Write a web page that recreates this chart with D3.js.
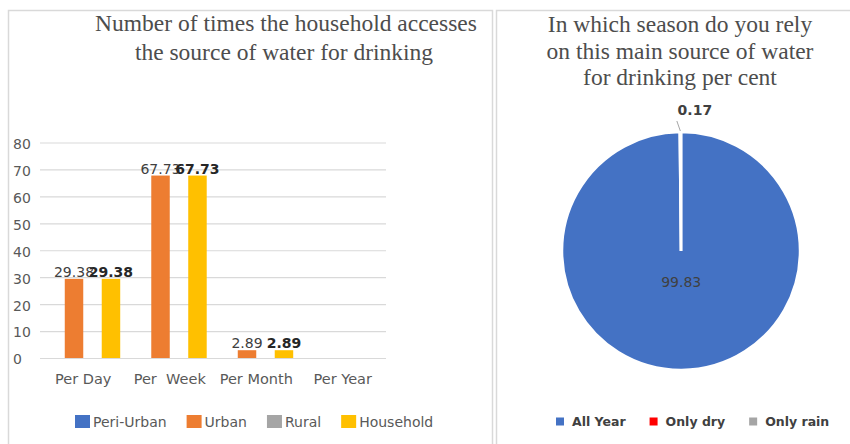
<!DOCTYPE html>
<html>
<head>
<meta charset="utf-8">
<script src="https://cdn.jsdelivr.net/npm/d3@7"></script>
<style>
  html, body { margin: 0; padding: 0; background: #fff; }
  svg { display: block; }
  text { font-family: "DejaVu Sans", sans-serif; }
  .title { font-family: "Liberation Serif", "Times New Roman", serif; fill: #4d4d4d; }
</style>
</head>
<body>
<svg id="chart" width="850" height="444"></svg>
<script>
// Access frequency by area type (per cent)
const frequencies = ["Per Day", "Per  Week", "Per Month", "Per Year"];
const areaSeries = ["Peri-Urban", "Urban", "Rural", "Household"];
const periUrban = [null, null, null, null];
const urban = [29.38, 67.73, 2.89, null];
const rural = [null, null, null, null];
const household = [29.38, 67.73, 2.89, null];
const yTicks = [0, 10, 20, 30, 40, 50, 60, 70, 80];

// Season of reliance on the main drinking-water source (per cent)
const seasons = ["All Year", "Only dry", "Only rain"];
const seasonShares = [99.83, 0.17, 0];

const areaColors = { "Peri-Urban": "#4472C4", "Urban": "#ED7D31", "Rural": "#A5A5A5", "Household": "#FFC000" };
const seasonColors = ["#4472C4", "#FF0000", "#A5A5A5"];

const svg = d3.select("#chart");

// panel frames
svg.append("rect").attr("x", 8.5).attr("y", 10.5).attr("width", 484).attr("height", 450)
  .attr("fill", "none").attr("stroke", "#d9d9d9").attr("stroke-width", 1.5);
svg.append("rect").attr("x", 496.5).attr("y", 10.5).attr("width", 380).attr("height", 450)
  .attr("fill", "none").attr("stroke", "#d9d9d9").attr("stroke-width", 1.5);

// ---------- Bar chart ----------
const leftTitle = svg.append("text").attr("class", "title").attr("text-anchor", "middle")
  .attr("font-size", 23.5);
leftTitle.append("tspan").attr("x", 286).attr("y", 31).text("Number of times the household accesses");
leftTitle.append("tspan").attr("x", 284).attr("y", 60).text("the source of water for drinking");

const y = d3.scaleLinear().domain([0, 80]).range([358, 142.5]);
const x0 = d3.scaleBand().domain(frequencies).range([40, 386]).padding(0);
const x1 = d3.scaleBand().domain(areaSeries).range([0, x0.bandwidth()]).paddingInner(0).paddingOuter(0.34);

const grid = svg.append("g");
grid.selectAll("line").data(yTicks).join("line")
  .attr("x1", 40).attr("x2", 386)
  .attr("y1", d => y(d) + 0.5).attr("y2", d => y(d) + 0.5)
  .attr("stroke", "#d9d9d9").attr("stroke-width", 1.2);

const yAxis = d3.axisLeft(y).tickValues(yTicks).tickSize(0).tickPadding(0);
const yG = svg.append("g").attr("transform", "translate(13,0)").call(yAxis);
yG.select(".domain").remove();
yG.selectAll("text").attr("text-anchor", "start").attr("x", 0).attr("dy", "0.42em")
  .attr("font-family", "DejaVu Sans").attr("font-size", 14).attr("fill", "#595959");

const xAxis = d3.axisBottom(x0).tickSize(0).tickPadding(0);
const xG = svg.append("g").attr("transform", "translate(0,384)").call(xAxis);
xG.select(".domain").remove();
xG.selectAll("text").attr("dy", 0).attr("y", 0)
  .attr("font-family", "DejaVu Sans").attr("font-size", 14.5).attr("fill", "#595959")
  .style("white-space", "pre");

const seriesValues = { "Peri-Urban": periUrban, "Urban": urban, "Rural": rural, "Household": household };
const barData = [];
areaSeries.forEach(s => {
  seriesValues[s].forEach((v, i) => {
    if (v !== null) barData.push({ series: s, cat: frequencies[i], value: v });
  });
});

svg.append("g").selectAll("rect").data(barData).join("rect")
  .attr("x", d => x0(d.cat) + x1(d.series))
  .attr("width", x1.bandwidth())
  .attr("y", d => y(d.value))
  .attr("height", d => y(0) - y(d.value))
  .attr("fill", d => areaColors[d.series]);

svg.append("g").selectAll("text").data(barData).join("text")
  .attr("x", d => x0(d.cat) + x1(d.series) + x1.bandwidth() / 2)
  .attr("y", d => y(d.value) - 2)
  .attr("text-anchor", "middle")
  .attr("font-size", 14)
  .attr("font-weight", d => d.series === "Household" ? "bold" : "normal")
  .attr("fill", d => d.series === "Household" ? "#262626" : "#404040")
  .text(d => d3.format(".2f")(d.value));

// legend
const legL = svg.append("g").attr("transform", "translate(75,0)");
let lx = 0;
areaSeries.forEach(s => {
  const g = legL.append("g").attr("transform", `translate(${lx},0)`);
  g.append("rect").attr("x", 0).attr("y", 415).attr("width", 15).attr("height", 13).attr("fill", areaColors[s]);
  const t = g.append("text").attr("x", 18).attr("y", 426.5).attr("font-size", 14)
    .attr("fill", "#595959").text(s);
  lx += 18 + t.node().getComputedTextLength() + 20;
});

// ---------- Pie chart ----------
const rightTitle = svg.append("text").attr("class", "title").attr("text-anchor", "middle")
  .attr("font-size", 23.5);
rightTitle.append("tspan").attr("x", 680).attr("y", 32).text("In which season do you rely");
rightTitle.append("tspan").attr("x", 680).attr("y", 59).text("on this main source of water");
rightTitle.append("tspan").attr("x", 680).attr("y", 85).text("for drinking per cent");

const cx = 681, cy = 251, r = 119;
const pie = d3.pie().sort(null).value(d => d.value);
const arcs = pie(seasons.map((s, i) => ({ season: s, value: seasonShares[i] })));
const arc = d3.arc().innerRadius(0).outerRadius(r);

const pieG = svg.append("g").attr("transform", `translate(${cx},${cy})`);
pieG.selectAll("path").data(arcs).join("path")
  .attr("d", arc)
  .attr("fill", (d, i) => seasonColors[i])
  .attr("stroke", "#fff").attr("stroke-width", 2.5);

// large-slice label inside
const big = arcs[0];
const inner = d3.arc().innerRadius(0).outerRadius(r * 0.52);
const bc = inner.centroid({ startAngle: big.startAngle, endAngle: big.endAngle });
pieG.append("text").attr("x", bc[0]).attr("y", bc[1] + 5).attr("text-anchor", "middle")
  .attr("font-size", 14).attr("fill", "#404040").text(d3.format(".2f")(big.data.value));

// small-slice label with leader line
arcs.filter((d, i) => i > 0 && d.data.value > 0).forEach(d => {
  const mid = (d.startAngle + d.endAngle) / 2;
  const p0 = [Math.sin(mid) * (r + 1), -Math.cos(mid) * (r + 1)];
  const p1 = [p0[0] - 3.5, p0[1] - 10];
  pieG.append("line").attr("x1", p0[0]).attr("y1", p0[1]).attr("x2", p1[0]).attr("y2", p1[1])
    .attr("stroke", "#a6a6a6").attr("stroke-width", 1);
  pieG.append("text").attr("x", p1[0] + 18).attr("y", p1[1] - 6).attr("text-anchor", "middle")
    .attr("font-size", 14).attr("font-weight", "bold").attr("fill", "#404040")
    .text(d3.format(".2f")(d.data.value));
});

// legend
const legR = svg.append("g").attr("transform", "translate(556,0)");
let rx = 0;
seasons.forEach((s, i) => {
  const g = legR.append("g").attr("transform", `translate(${rx},0)`);
  g.append("rect").attr("x", 0).attr("y", 417.5).attr("width", 8).attr("height", 8).attr("fill", seasonColors[i]);
  const t = g.append("text").attr("x", 16).attr("y", 426).attr("font-size", 12.5)
    .attr("font-weight", "bold").attr("fill", "#404040").text(s);
  rx += 16 + t.node().getComputedTextLength() + 24;
});
</script>
</body>
</html>
